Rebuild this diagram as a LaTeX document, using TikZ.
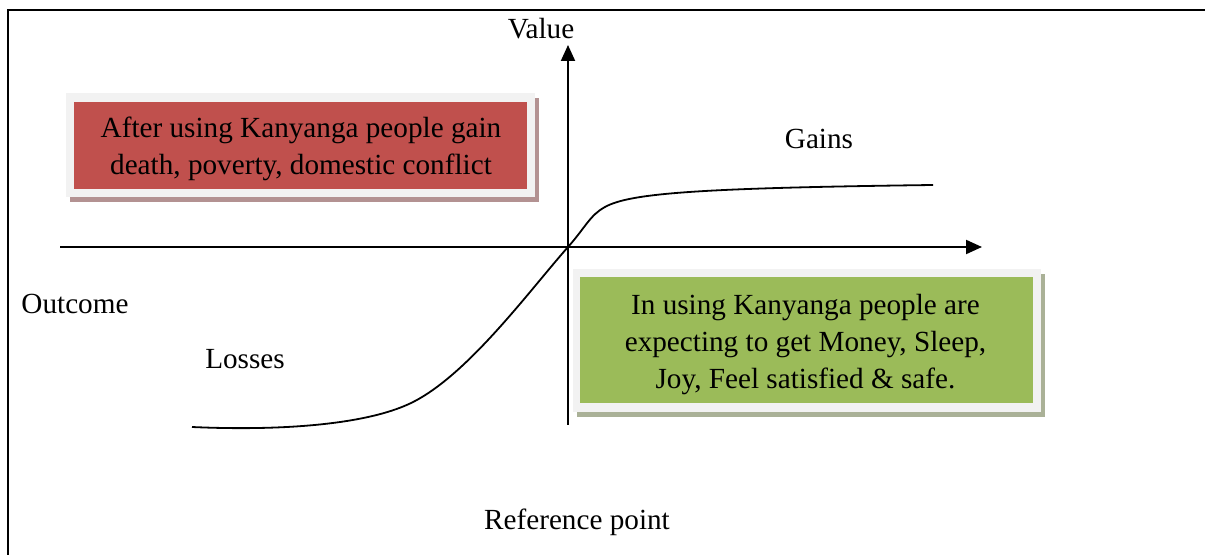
\documentclass[tikz,border=0pt]{standalone}
\usepackage{fontspec}
\setmainfont{Liberation Serif}
\usetikzlibrary{arrows.meta,shadows}
\definecolor{lossred}{HTML}{C0504D}
\definecolor{gaingreen}{HTML}{9BBB59}
\definecolor{panelgray}{HTML}{F2F2F2}
\definecolor{redshade}{HTML}{B39292}
\definecolor{greenshade}{HTML}{AAB197}
\tikzset{
  frame/.style={draw=black,line width=1.3pt},
  axis/.style={draw=black,line width=1pt,-{Triangle[length=8pt,width=7pt]}},
  curve/.style={draw=black,line width=0.9pt},
  panel/.style={rectangle,fill=panelgray,inner sep=0pt},
  inset/.style={rectangle,inner sep=0pt},
  lbl/.style={inner sep=0pt,font=\fontsize{14.6pt}{18.5pt}\selectfont},
  boxtext/.style={lbl,align=center},
}
\begin{document}
\begin{tikzpicture}[x=0.5pt,y=-0.5pt]
  \useasboundingbox (0,0) rectangle (1205,555);
  % open frame: left and top edges only
  \coordinate (fbl) at (8,555); \coordinate (ftl) at (8,10); \coordinate (ftr) at (1205,10);
  \draw[frame] (fbl) -- (ftl) -- (ftr);

  % the two panels, each a light mat with a drop shadow and a coloured inset
  \node[panel,minimum width=234.5pt,minimum height=52pt,
        drop shadow={shadow xshift=1.8pt,shadow yshift=-2.4pt,fill=redshade,opacity=1}] (redmat) at (300.5,145){};
  \node[inset,fill=lossred,minimum width=226.5pt,minimum height=43.5pt] (redbox) at (300.5,145.5){};
  \node[boxtext] (redtxt) at (301,148.5){After using Kanyanga people gain\\death, poverty, domestic conflict};

  \node[panel,minimum width=234pt,minimum height=71.5pt,
        drop shadow={shadow xshift=1.8pt,shadow yshift=-2.6pt,fill=greenshade,opacity=1}] (greenmat) at (807,340.5){};
  \node[inset,fill=gaingreen,minimum width=226.5pt,minimum height=63pt] (greenbox) at (806.5,340){};
  \node[boxtext] (greentxt) at (805.5,344.5){In using Kanyanga people are\\expecting to get Money, Sleep,\\Joy, Feel satisfied \& safe.};

  % axes
  \coordinate (O) at (568,247);
  \coordinate (xl) at (60,247);  \coordinate (xr) at (982,247);
  \coordinate (yb) at (568,425); \coordinate (yt) at (568,45);
  \draw[axis] (xl) -- (xr);
  \draw[axis] (yb) -- (yt);

  % value function
  \coordinate (c0) at (192,427); \coordinate (c1) at (415,401);
  \coordinate (c2) at (605,207); \coordinate (c3) at (933,185);
  \draw[curve] (c0) .. controls (280,431) and (370,425) .. (c1)
                    .. controls (470,372) and (530,290) .. (O)
                    .. controls (585,228) and (590,215) .. (c2)
                    .. controls (630,193) and (700,188) .. (c3);

  \node[lbl] (value) at (541,29){Value};
  \node[lbl] (gains) at (819,139){Gains};
  \node[lbl] (outcome) at (75,304){Outcome};
  \node[lbl] (losses) at (245,359){Losses};
  \node[lbl] (refpt) at (577,522){Reference point};
\end{tikzpicture}
\end{document}
